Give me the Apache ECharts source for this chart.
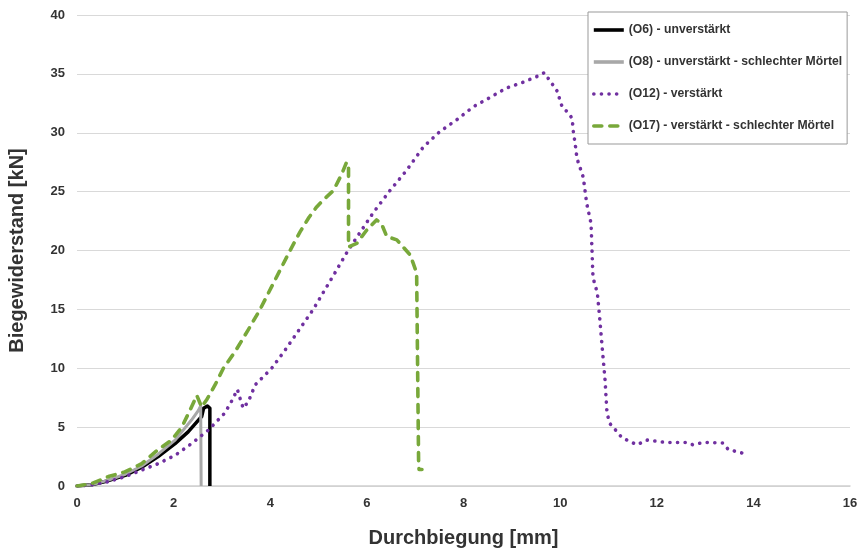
<!DOCTYPE html>
<html>
<head>
<meta charset="utf-8">
<script src="https://cdn.jsdelivr.net/npm/echarts@6/dist/echarts.min.js"></script>
<style>html,body{margin:0;padding:0;background:#fff}#c{width:862px;height:551px}</style>
</head>
<body>
<div id="c"></div>
<script>
const xTicks = [0, 2, 4, 6, 8, 10, 12, 14, 16];
const yTicks = [0, 5, 10, 15, 20, 25, 30, 35, 40];
const seriesNames = ['(O6) - unverstärkt', '(O8) - unverstärkt - schlechter Mörtel', '(O12) - verstärkt', '(O17) - verstärkt - schlechter Mörtel'];

const o6 = [[0,0],[0.3,0.1],[0.65,0.45],[1.0,0.9],[1.34,1.6],[1.68,2.5],[2.03,3.6],[2.3,4.6],[2.45,5.3],[2.58,5.9],[2.62,6.6],[2.7,6.8],[2.75,6.6],[2.75,0]];
const o8 = [[0,0],[0.3,0.1],[0.65,0.5],[1.0,1.0],[1.34,1.7],[1.68,2.7],[2.03,3.9],[2.37,5.6],[2.51,6.4],[2.56,6.8],[2.57,0]];
const o12 = [[0,0],[0.3,0.1],[0.65,0.37],[1.0,0.8],[1.34,1.36],[1.68,1.9],[2.03,2.6],[2.37,3.6],[2.72,4.75],[3.06,6.2],[3.2,7.2],[3.32,8.2],[3.37,7.5],[3.44,6.6],[3.55,7.2],[3.69,8.6],[4.03,10.0],[4.3,11.5],[4.62,13.4],[4.89,15.0],[5.31,17.9],[5.61,20.0],[6.13,23.2],[6.48,25.1],[6.82,26.8],[7.17,28.8],[7.51,30.1],[7.86,31.1],[8.2,32.2],[8.55,33.0],[8.89,33.8],[9.24,34.3],[9.59,34.9],[9.67,35.1],[9.86,34.0],[9.96,33.4],[10.0,32.6],[10.06,32.1],[10.17,31.7],[10.25,31.2],[10.27,30.2],[10.31,29.1],[10.35,27.8],[10.48,26.2],[10.55,24.0],[10.64,22.3],[10.66,20.0],[10.68,17.7],[10.77,16.4],[10.81,14.7],[10.87,11.8],[10.93,9.0],[10.97,6.2],[11.03,5.3],[11.18,4.6],[11.28,4.1],[11.59,3.5],[11.8,3.9],[12.2,3.7],[12.63,3.7],[12.75,3.5],[12.96,3.7],[13.37,3.65],[13.48,3.1],[13.77,2.8]];
const o17 = [[0,0],[0.3,0.2],[0.65,0.8],[0.99,1.2],[1.34,1.9],[1.68,3.1],[1.96,3.9],[2.17,5.0],[2.34,6.45],[2.48,7.7],[2.58,6.7],[2.68,7.3],[2.86,8.6],[3.03,10.0],[3.27,11.4],[3.55,13.3],[3.79,15.0],[4.1,17.5],[4.41,20.0],[4.62,21.6],[4.8,22.8],[4.96,23.7],[5.1,24.3],[5.31,25.1],[5.48,26.5],[5.58,27.5],[5.62,27.2],[5.62,20.3],[5.79,20.6],[5.99,21.7],[6.2,22.6],[6.3,22.3],[6.41,21.2],[6.62,20.9],[6.75,20.3],[6.9,19.6],[6.96,18.9],[7.03,18.1],[7.07,2.2],[7.08,1.4],[7.14,1.4]];

const FONT = '"Liberation Sans", Arial, sans-serif';
const chart = echarts.init(document.getElementById('c'), null, {renderer: 'canvas'});
chart.setOption({
  animation: false,
  backgroundColor: '#fff',
  grid: {left: 77, right: 12, top: 15, bottom: 65, containLabel: false, outerBoundsMode: 'none'},
  legend: {
    orient: 'vertical', left: 588, top: 12,
    backgroundColor: '#fff', borderColor: '#999', borderWidth: 1,
    padding: [12, 5, 12, 4], itemGap: 20, itemWidth: 30, itemHeight: 12,
    itemStyle: {opacity: 0},
    lineStyle: {width: 3.6},
    textStyle: {fontFamily: FONT, fontWeight: 'bold', fontSize: 12.2, color: '#333'},
    data: seriesNames
  },
  xAxis: {
    type: 'value', min: 0, max: 16, interval: 2,
    name: 'Durchbiegung [mm]', nameLocation: 'middle', nameGap: 42,
    nameTextStyle: {fontFamily: FONT, fontWeight: 'bold', fontSize: 20, color: '#333'},
    axisLine: {show: true, lineStyle: {color: '#d0d0d0', width: 1.5}},
    axisTick: {show: false},
    splitLine: {show: false},
    axisLabel: {fontFamily: FONT, fontWeight: 'bold', fontSize: 13, color: '#333', margin: 11,
      formatter: v => xTicks.includes(v) ? String(v) : ''}
  },
  yAxis: {
    type: 'value', min: 0, max: 40, interval: 5,
    name: 'Biegewiderstand [kN]', nameLocation: 'middle', nameGap: 50,
    nameTextStyle: {fontFamily: FONT, fontWeight: 'bold', fontSize: 20, color: '#333'},
    axisLine: {show: false},
    axisTick: {show: false},
    splitLine: {show: true, lineStyle: {color: '#d9d9d9', width: 1.2}},
    axisLabel: {fontFamily: FONT, fontWeight: 'bold', fontSize: 13, color: '#333', margin: 12,
      formatter: v => yTicks.includes(v) ? String(v) : ''}
  },
  series: [
    {name: seriesNames[0], type: 'line', data: o6, symbol: 'none', showSymbol: false,
      lineStyle: {color: '#000', width: 3.5, join: 'round'}, itemStyle: {color: '#000'}},
    {name: seriesNames[1], type: 'line', data: o8, symbol: 'none', showSymbol: false,
      lineStyle: {color: '#a8a8a8', width: 3, join: 'round'}, itemStyle: {color: '#a8a8a8'}},
    {name: seriesNames[2], type: 'line', data: o12, symbol: 'none', showSymbol: false,
      lineStyle: {color: '#7030a0', width: 3.6, type: [0.1, 7.5], cap: 'round', join: 'round'}, itemStyle: {color: '#7030a0'}},
    {name: seriesNames[3], type: 'line', data: o17, symbol: 'none', showSymbol: false,
      lineStyle: {color: '#78a83a', width: 3.6, type: [8, 8], cap: 'round', join: 'round'}, itemStyle: {color: '#78a83a'}}
  ]
});
</script>
</body>
</html>
